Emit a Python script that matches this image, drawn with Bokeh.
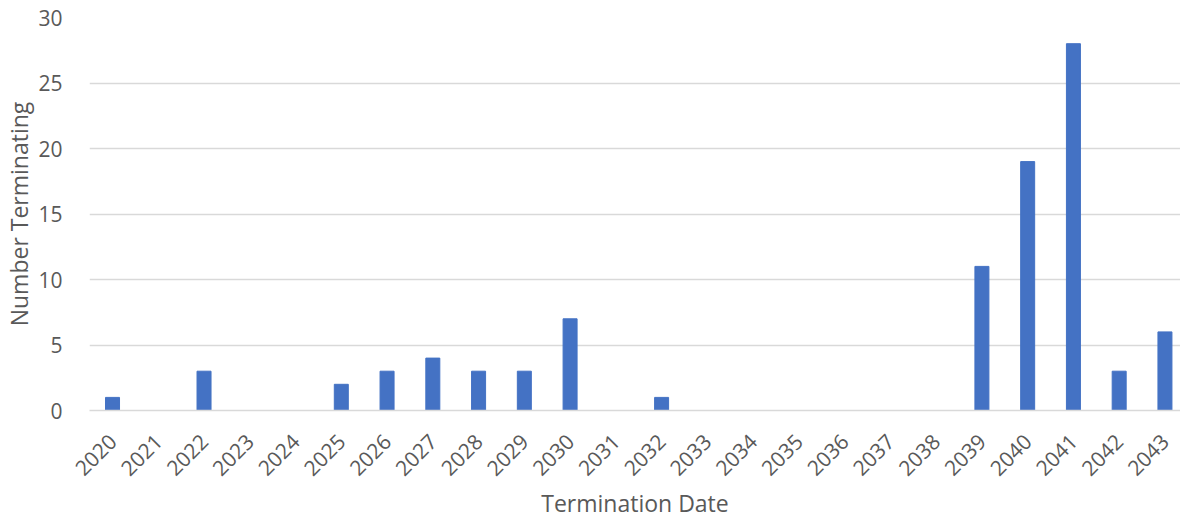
import math
from bokeh.plotting import figure
from bokeh.models import Range1d, FixedTicker, ColumnDataSource
from bokeh.embed import file_html
from bokeh.resources import INLINE

years = list(range(2020, 2044))
counts = [1, 0, 3, 0, 0, 2, 3, 4, 3, 3, 7, 0, 1, 0, 0, 0, 0, 0, 0, 11, 19, 28, 3, 6]
y_ticks = [0, 5, 10, 15, 20, 25, 30]
x_title = "Termination Date"
y_title = "Number Terminating"

FONT = "Open Sans"
TXT = "#595959"

src = ColumnDataSource(dict(x=years, top=counts))

p = figure(width=1180, height=521, output_backend="svg", toolbar_location=None,
           x_range=Range1d(2019.497, 2043.34), y_range=Range1d(0, 30),
           min_border_left=89, min_border_right=0, min_border_top=17, min_border_bottom=111)
p.outline_line_color = None
p.background_fill_color = "white"
p.border_fill_color = "white"

p.vbar(x="x", top="top", width=0.306, source=src, color="#4472C4")

p.xgrid.grid_line_color = None
p.ygrid.grid_line_color = "#D9D9D9"
p.ygrid.grid_line_width = 1.3
p.yaxis.ticker = FixedTicker(ticks=y_ticks)
p.xaxis.ticker = FixedTicker(ticks=years)

for ax in (p.xaxis[0], p.yaxis[0]):
    ax.major_tick_line_color = None
    ax.minor_tick_line_color = None
    ax.major_label_text_font = FONT
    ax.major_label_text_font_size = "21px"
    ax.major_label_text_color = TXT
    ax.axis_label_text_font = FONT
    ax.axis_label_text_font_size = "23px"
    ax.axis_label_text_color = TXT
    ax.axis_label_text_font_style = "normal"

p.yaxis.axis_line_color = None
p.xaxis.axis_line_color = "#D9D9D9"
p.xaxis.axis_line_width = 1.3
p.xaxis.major_label_orientation = math.pi / 4
p.xaxis.major_label_standoff = 21
p.yaxis.major_label_standoff = 21
p.xaxis.axis_label = x_title
p.yaxis.axis_label = y_title
p.xaxis.axis_label_standoff = 1
p.yaxis.axis_label_standoff = 0

open("out.html", "w").write(file_html(p, INLINE))
